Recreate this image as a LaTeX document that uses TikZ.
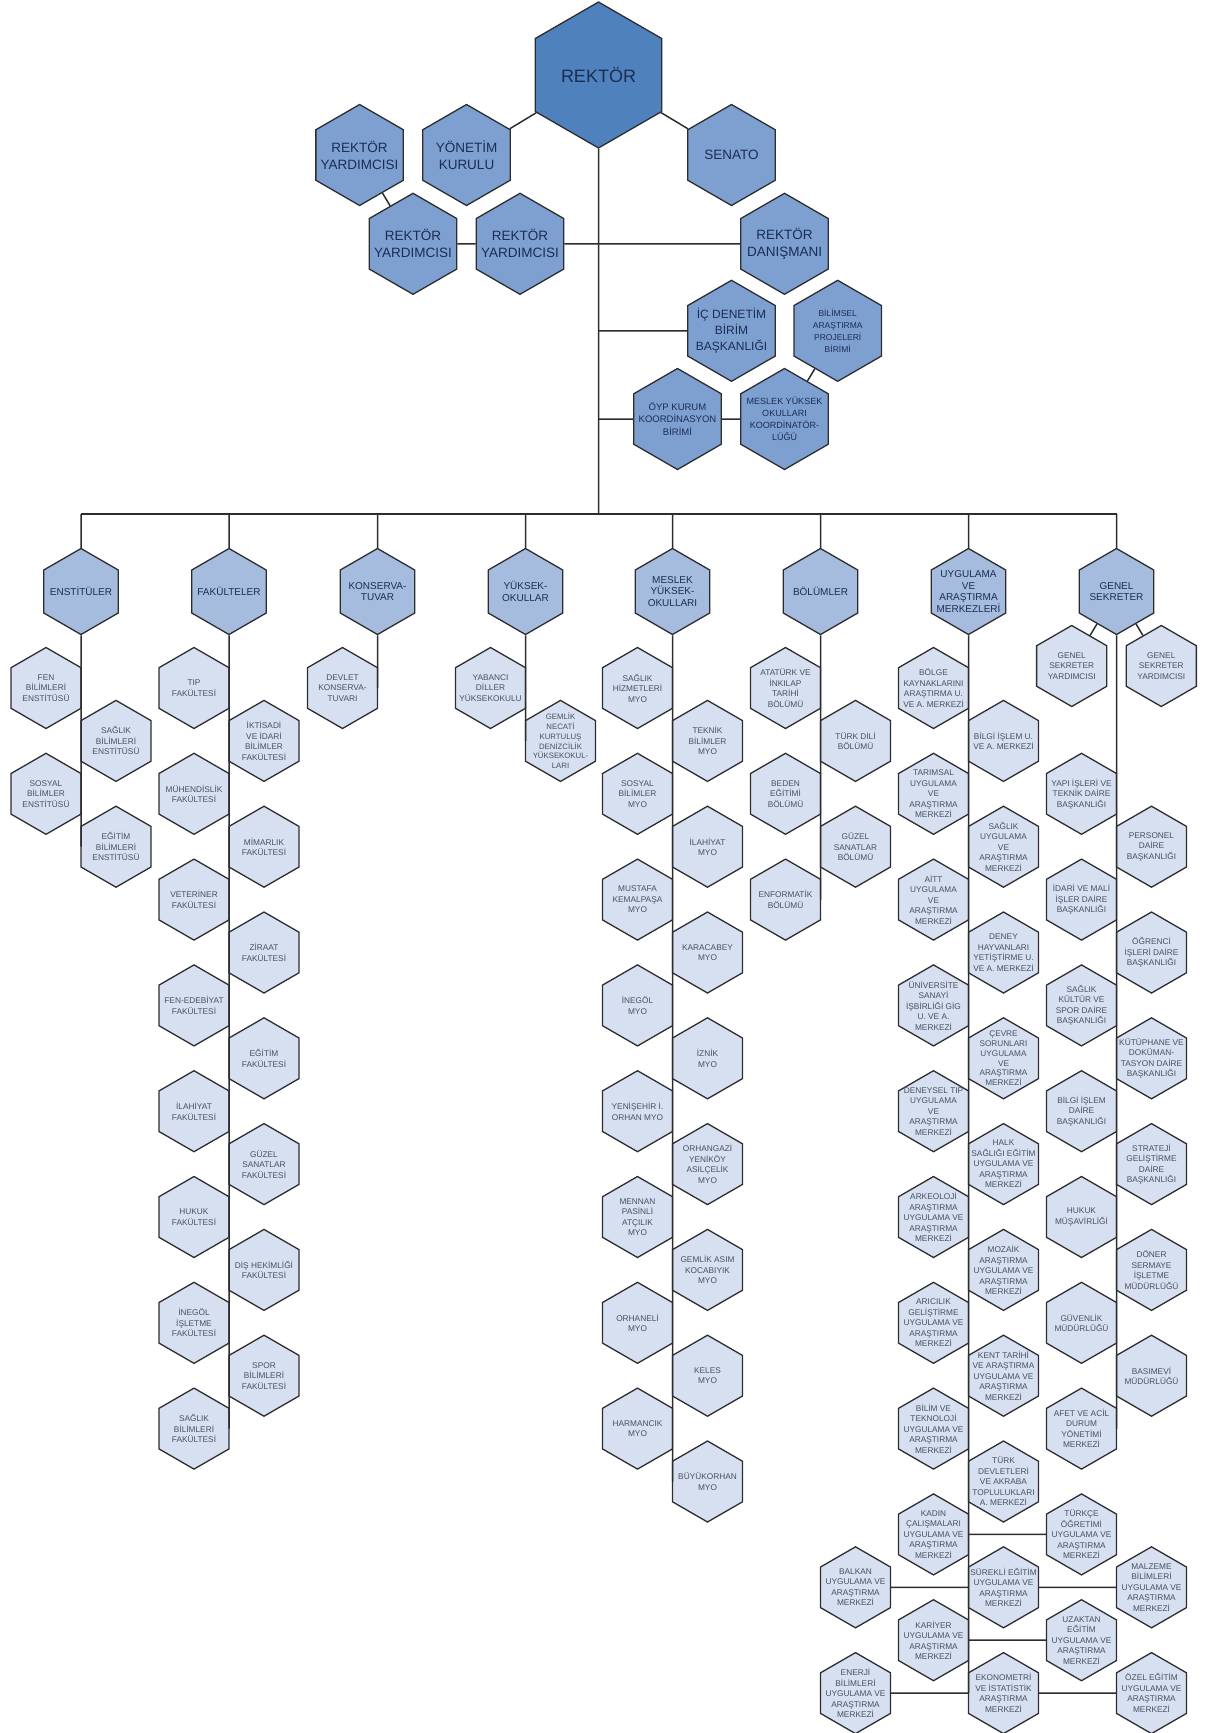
\documentclass[tikz,border=0pt]{standalone}
\usepackage{fontspec}
\setmainfont{Liberation Sans}
\usetikzlibrary{shapes.geometric}
\definecolor{rkfill}{RGB}{79,129,189}
\definecolor{upfill}{RGB}{125,160,209}
\definecolor{unitfill}{RGB}{166,188,222}
\definecolor{subfill}{RGB}{214,224,240}
\definecolor{hexline}{RGB}{45,45,48}
\definecolor{navytext}{RGB}{28,45,82}
\definecolor{greytext}{RGB}{72,80,96}
\tikzset{
  hexbase/.style={regular polygon, regular polygon sides=6, shape border rotate=30,
    draw=hexline, line width=1.3pt, inner xsep=-20pt, inner ysep=-20pt, align=center},
  rkhex/.style={hexbase, minimum size=146pt, fill=rkfill, text=navytext,
    font=\fontsize{18}{21}\selectfont},
  uphex/.style={hexbase, minimum size=101pt, fill=upfill, text=navytext,
    font=\fontsize{13.5}{17}\selectfont},
  unithex/.style={hexbase, minimum size=86pt, fill=unitfill, text=navytext,
    font=\fontsize{10}{11.5}\selectfont},
  subhex/.style={hexbase, minimum size=81pt, fill=subfill, text=greytext,
    font=\fontsize{8.3}{10.5}\selectfont},
  conn/.style={draw=hexline, line width=1.5pt}
}
\begin{document}
\begin{tikzpicture}[x=1pt,y=-1pt]
  \useasboundingbox (0,0) rectangle (1205,1733);
  % rector and top units
  \node[rkhex] (rk) at (598.5,75) {REKTÖR};
  \node[uphex] (ry1) at (359.6,155) {REKTÖR\\YARDIMCISI};
  \node[uphex] (yk) at (466.5,155) {YÖNETİM\\KURULU};
  \node[uphex] (sen) at (731.5,155) {SENATO};
  \node[uphex] (ry2) at (413,243.8) {REKTÖR\\YARDIMCISI};
  \node[uphex] (ry3) at (520,243.8) {REKTÖR\\YARDIMCISI};
  \node[uphex] (dan) at (784.5,243.8) {REKTÖR\\DANIŞMANI};
  \node[uphex,font=\fontsize{12}{16}\selectfont] (icd) at (731.5,330.8) {İÇ DENETİM\\BİRİM\\BAŞKANLIĞI};
  \node[uphex,font=\fontsize{8.5}{12}\selectfont] (bap) at (837.7,330.8) {BİLİMSEL\\ARAŞTIRMA\\PROJELERİ\\BİRİMİ};
  \node[uphex,font=\fontsize{9.5}{12.5}\selectfont] (oyp) at (677.5,419) {ÖYP KURUM\\KOORDİNASYON\\BİRİMİ};
  \node[uphex,font=\fontsize{9}{12}\selectfont] (myk) at (784.5,419) {MESLEK YÜKSEK\\OKULLARI\\KOORDİNATÖR-\\LÜĞÜ};
  \coordinate (bus) at (598.5,514);

  % main units
  \node[unithex] (ens) at (81,591.5) {ENSTİTÜLER};
  \node[unithex] (fak) at (229,591.5) {FAKÜLTELER};
  \node[unithex] (kon) at (377.5,591.5) {KONSERVA-\\TUVAR};
  \node[unithex] (yo) at (525.5,591.5) {YÜKSEK-\\OKULLAR};
  \node[unithex] (myo) at (672.5,591.5) {MESLEK\\YÜKSEK-\\OKULLARI};
  \node[unithex] (bol) at (820.5,591.5) {BÖLÜMLER};
  \node[unithex] (uyg) at (968.5,591.5) {UYGULAMA\\VE\\ARAŞTIRMA\\MERKEZLERİ};
  \node[unithex] (gs) at (1116.5,591.5) {GENEL\\SEKRETER};

  % enstituler
  \node[subhex] (fenE) at (46,688) {FEN\\BİLİMLERİ\\ENSTİTÜSÜ};
  \node[subhex] (sagE) at (116,740.9) {SAĞLIK\\BİLİMLERİ\\ENSTİTÜSÜ};
  \node[subhex] (sosE) at (46,793.8) {SOSYAL\\BİLİMLER\\ENSTİTÜSÜ};
  \node[subhex] (egtE) at (116,846.7) {EĞİTİM\\BİLİMLERİ\\ENSTİTÜSÜ};

  % fakulteler
  \node[subhex] (tipF) at (194,688) {TIP\\FAKÜLTESİ};
  \node[subhex] (iktF) at (264,740.9) {İKTİSADİ\\VE İDARİ\\BİLİMLER\\FAKÜLTESİ};
  \node[subhex] (muhF) at (194,793.8) {MÜHENDİSLİK\\FAKÜLTESİ};
  \node[subhex] (mimF) at (264,846.7) {MİMARLIK\\FAKÜLTESİ};
  \node[subhex] (vetF) at (194,899.6) {VETERİNER\\FAKÜLTESİ};
  \node[subhex] (zirF) at (264,952.5) {ZİRAAT\\FAKÜLTESİ};
  \node[subhex] (fedF) at (194,1005.4) {FEN-EDEBİYAT\\FAKÜLTESİ};
  \node[subhex] (egtF) at (264,1058.3) {EĞİTİM\\FAKÜLTESİ};
  \node[subhex] (ilaF) at (194,1111.2) {İLAHİYAT\\FAKÜLTESİ};
  \node[subhex] (guzF) at (264,1164.1) {GÜZEL\\SANATLAR\\FAKÜLTESİ};
  \node[subhex] (hukF) at (194,1217) {HUKUK\\FAKÜLTESİ};
  \node[subhex] (disF) at (264,1269.9) {DİŞ HEKİMLİĞİ\\FAKÜLTESİ};
  \node[subhex] (ineF) at (194,1322.8) {İNEGÖL\\İŞLETME\\FAKÜLTESİ};
  \node[subhex] (spoF) at (264,1375.7) {SPOR\\BİLİMLERİ\\FAKÜLTESİ};
  \node[subhex] (sagF) at (194,1428.6) {SAĞLIK\\BİLİMLERİ\\FAKÜLTESİ};

  % konservatuvar, yuksekokullar
  \node[subhex] (devK) at (342.5,688) {DEVLET\\KONSERVA-\\TUVARI};
  \node[subhex] (yabY) at (490.5,688) {YABANCI\\DİLLER\\YÜKSEKOKULU};
  \node[subhex,font=\fontsize{7.8}{9.8}\selectfont] (gemY) at (560.5,740.9) {GEMLİK\\NECATİ\\KURTULUŞ\\DENİZCİLİK\\YÜKSEKOKUL-\\LARI};

  % meslek yuksekokullari
  \node[subhex] (shM) at (637.5,688) {SAĞLIK\\HİZMETLERİ\\MYO};
  \node[subhex] (tekM) at (707.5,740.9) {TEKNİK\\BİLİMLER\\MYO};
  \node[subhex] (sosM) at (637.5,793.8) {SOSYAL\\BİLİMLER\\MYO};
  \node[subhex] (ilaM) at (707.5,846.7) {İLAHİYAT\\MYO};
  \node[subhex] (mkpM) at (637.5,899.6) {MUSTAFA\\KEMALPAŞA\\MYO};
  \node[subhex] (kbyM) at (707.5,952.5) {KARACABEY\\MYO};
  \node[subhex] (ineM) at (637.5,1005.4) {İNEGÖL\\MYO};
  \node[subhex] (iznM) at (707.5,1058.3) {İZNİK\\MYO};
  \node[subhex] (yenM) at (637.5,1111.2) {YENİŞEHİR İ.\\ORHAN MYO};
  \node[subhex] (orhM) at (707.5,1164.1) {ORHANGAZİ\\YENİKÖY\\ASILÇELİK\\MYO};
  \node[subhex] (menM) at (637.5,1217) {MENNAN\\PASİNLİ\\ATÇILIK\\MYO};
  \node[subhex] (gasM) at (707.5,1269.9) {GEMLİK ASIM\\KOCABIYIK\\MYO};
  \node[subhex] (orlM) at (637.5,1322.8) {ORHANELİ\\MYO};
  \node[subhex] (kelM) at (707.5,1375.7) {KELES\\MYO};
  \node[subhex] (harM) at (637.5,1428.6) {HARMANCIK\\MYO};
  \node[subhex] (buyM) at (707.5,1481.5) {BÜYÜKORHAN\\MYO};

  % bolumler
  \node[subhex] (ataB) at (785.5,688) {ATATÜRK VE\\İNKILAP\\TARİHİ\\BÖLÜMÜ};
  \node[subhex] (tdB) at (855.5,740.9) {TÜRK DİLİ\\BÖLÜMÜ};
  \node[subhex] (bedB) at (785.5,793.8) {BEDEN\\EĞİTİMİ\\BÖLÜMÜ};
  \node[subhex] (gsB) at (855.5,846.7) {GÜZEL\\SANATLAR\\BÖLÜMÜ};
  \node[subhex] (enfB) at (785.5,899.6) {ENFORMATİK\\BÖLÜMÜ};

  % uygulama ve arastirma merkezleri
  \node[subhex] (bolU) at (933.5,688) {BÖLGE\\KAYNAKLARINI\\ARAŞTIRMA U.\\VE A. MERKEZİ};
  \node[subhex] (bilU) at (1003.5,740.9) {BİLGİ İŞLEM U.\\VE A. MERKEZİ};
  \node[subhex] (tarU) at (933.5,793.8) {TARIMSAL\\UYGULAMA\\VE\\ARAŞTIRMA\\MERKEZİ};
  \node[subhex] (sagU) at (1003.5,846.7) {SAĞLIK\\UYGULAMA\\VE\\ARAŞTIRMA\\MERKEZİ};
  \node[subhex] (aitU) at (933.5,899.6) {AİTT\\UYGULAMA\\VE\\ARAŞTIRMA\\MERKEZİ};
  \node[subhex] (denU) at (1003.5,952.5) {DENEY\\HAYVANLARI\\YETİŞTİRME U.\\VE A. MERKEZİ};
  \node[subhex] (unvU) at (933.5,1005.4) {ÜNİVERSİTE\\SANAYİ\\İŞBİRLİĞİ GİG\\U. VE A.\\MERKEZİ};
  \node[subhex,font=\fontsize{8.2}{9.8}\selectfont] (cevU) at (1003.5,1058.3) {ÇEVRE\\SORUNLARI\\UYGULAMA\\VE\\ARAŞTIRMA\\MERKEZİ};
  \node[subhex] (dtU) at (933.5,1111.2) {DENEYSEL TIP\\UYGULAMA\\VE\\ARAŞTIRMA\\MERKEZİ};
  \node[subhex] (halU) at (1003.5,1164.1) {HALK\\SAĞLIĞI EĞİTİM\\UYGULAMA VE\\ARAŞTIRMA\\MERKEZİ};
  \node[subhex] (arkU) at (933.5,1217) {ARKEOLOJİ\\ARAŞTIRMA\\UYGULAMA VE\\ARAŞTIRMA\\MERKEZİ};
  \node[subhex] (mozU) at (1003.5,1269.9) {MOZAİK\\ARAŞTIRMA\\UYGULAMA VE\\ARAŞTIRMA\\MERKEZİ};
  \node[subhex] (ariU) at (933.5,1322.8) {ARICILIK\\GELİŞTİRME\\UYGULAMA VE\\ARAŞTIRMA\\MERKEZİ};
  \node[subhex] (kenU) at (1003.5,1375.7) {KENT TARİHİ\\VE ARAŞTIRMA\\UYGULAMA VE\\ARAŞTIRMA\\MERKEZİ};
  \node[subhex] (btU) at (933.5,1428.6) {BİLİM VE\\TEKNOLOJİ\\UYGULAMA VE\\ARAŞTIRMA\\MERKEZİ};
  \node[subhex] (tdvU) at (1003.5,1481.5) {TÜRK\\DEVLETLERİ\\VE AKRABA\\TOPLULUKLARI\\A. MERKEZİ};
  \node[subhex] (kadU) at (933.5,1534.4) {KADIN\\ÇALIŞMALARI\\UYGULAMA VE\\ARAŞTIRMA\\MERKEZİ};
  \node[subhex] (trkU) at (1081.5,1534.4) {TÜRKÇE\\ÖĞRETİMİ\\UYGULAMA VE\\ARAŞTIRMA\\MERKEZİ};
  \node[subhex] (balU) at (855.5,1587.3) {BALKAN\\UYGULAMA VE\\ARAŞTIRMA\\MERKEZİ};
  \node[subhex] (surU) at (1003.5,1587.3) {SÜREKLİ EĞİTİM\\UYGULAMA VE\\ARAŞTIRMA\\MERKEZİ};
  \node[subhex] (mlzU) at (1151.5,1587.3) {MALZEME\\BİLİMLERİ\\UYGULAMA VE\\ARAŞTIRMA\\MERKEZİ};
  \node[subhex] (karU) at (933.5,1640.2) {KARİYER\\UYGULAMA VE\\ARAŞTIRMA\\MERKEZİ};
  \node[subhex] (uzkU) at (1081.5,1640.2) {UZAKTAN\\EĞİTİM\\UYGULAMA VE\\ARAŞTIRMA\\MERKEZİ};
  \node[subhex] (enrU) at (855.5,1693.1) {ENERJİ\\BİLİMLERİ\\UYGULAMA VE\\ARAŞTIRMA\\MERKEZİ};
  \node[subhex] (ekoU) at (1003.5,1693.1) {EKONOMETRİ\\VE İSTATİSTİK\\ARAŞTIRMA\\MERKEZİ};
  \node[subhex] (ozlU) at (1151.5,1693.1) {ÖZEL EĞİTİM\\UYGULAMA VE\\ARAŞTIRMA\\MERKEZİ};

  % genel sekreter
  \node[subhex] (gsy1) at (1071.7,666) {GENEL\\SEKRETER\\YARDIMCISI};
  \node[subhex] (gsy2) at (1161.3,666) {GENEL\\SEKRETER\\YARDIMCISI};
  \node[subhex] (yapG) at (1081.5,793.8) {YAPI İŞLERİ VE\\TEKNİK DAİRE\\BAŞKANLIĞI};
  \node[subhex] (perG) at (1151.5,846.7) {PERSONEL\\DAİRE\\BAŞKANLIĞI};
  \node[subhex] (idaG) at (1081.5,899.6) {İDARİ VE MALİ\\İŞLER DAİRE\\BAŞKANLIĞI};
  \node[subhex] (ogrG) at (1151.5,952.5) {ÖĞRENCİ\\İŞLERİ DAİRE\\BAŞKANLIĞI};
  \node[subhex] (skG) at (1081.5,1005.4) {SAĞLIK\\KÜLTÜR VE\\SPOR DAİRE\\BAŞKANLIĞI};
  \node[subhex] (kutG) at (1151.5,1058.3) {KÜTÜPHANE VE\\DOKÜMAN-\\TASYON DAİRE\\BAŞKANLIĞI};
  \node[subhex] (bilG) at (1081.5,1111.2) {BİLGİ İŞLEM\\DAİRE\\BAŞKANLIĞI};
  \node[subhex] (strG) at (1151.5,1164.1) {STRATEJİ\\GELİŞTİRME\\DAİRE\\BAŞKANLIĞI};
  \node[subhex] (hukG) at (1081.5,1217) {HUKUK\\MÜŞAVİRLİĞİ};
  \node[subhex] (donG) at (1151.5,1269.9) {DÖNER\\SERMAYE\\İŞLETME\\MÜDÜRLÜĞÜ};
  \node[subhex] (guvG) at (1081.5,1322.8) {GÜVENLİK\\MÜDÜRLÜĞÜ};
  \node[subhex] (basG) at (1151.5,1375.7) {BASIMEVİ\\MÜDÜRLÜĞÜ};
  \node[subhex] (afetG) at (1081.5,1428.6) {AFET VE ACİL\\DURUM\\YÖNETİMİ\\MERKEZİ};

  % connectors at the top
  \draw[conn] (rk) -- (rk |- bus) (rk) -- (yk) (rk) -- (sen) (ry1) -- (ry2);
  \draw[conn] (ry2) -- (ry3) -- (dan);
  \draw[conn] (rk |- icd) -- (icd) (bap) -- (myk);
  \draw[conn] (rk |- oyp) -- (oyp) -- (myk);
  % bus and drops
  \draw[conn] (ens |- bus) -- (gs |- bus);
  \draw[conn] (ens) -- (ens |- bus) (fak) -- (fak |- bus) (kon) -- (kon |- bus)
    (yo) -- (yo |- bus) (myo) -- (myo |- bus) (bol) -- (bol |- bus)
    (uyg) -- (uyg |- bus) (gs) -- (gs |- bus);
  % column trunks
  \draw[conn] (ens) -- (ens |- egtE) (fak) -- (fak |- sagF) (kon) -- (kon |- devK)
    (yo) -- (yo |- gemY) (myo) -- (myo |- buyM) (bol) -- (bol |- enfB)
    (uyg) -- (uyg |- ekoU) (gs) -- (gs |- afetG);
  \draw[conn] (gs) -- (gsy1) (gs) -- (gsy2);
  \draw[conn] (kadU) -- (trkU) (karU) -- (uzkU);
  \draw[conn] (balU) -- (surU) -- (mlzU) (enrU) -- (ekoU) -- (ozlU);
\end{tikzpicture}
\end{document}
